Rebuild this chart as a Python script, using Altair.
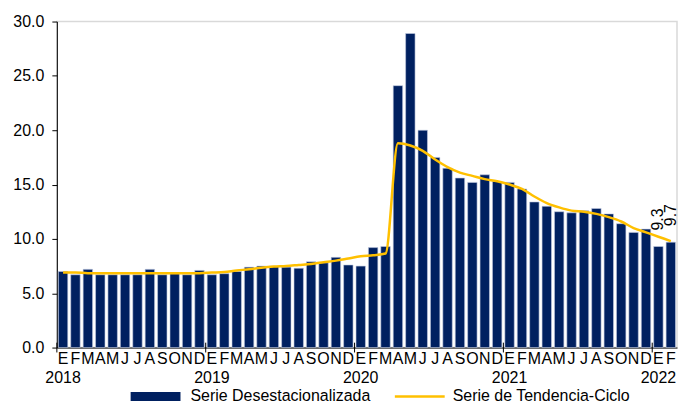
import json
import altair as alt
import pandas as pd

# --- data -------------------------------------------------------------
months = ["E", "F", "M", "A", "M", "J", "J", "A", "S", "O", "N", "D"]
years = ["2018", "2019", "2020", "2021", "2022"]

desestacionalizada = [
    7.0, 6.7, 7.2, 6.7, 6.7, 6.7, 6.7, 7.2, 6.7, 6.8, 6.7, 7.1,      # 2018
    6.7, 6.8, 7.0, 7.4, 7.5, 7.5, 7.4, 7.3, 7.9, 7.8, 8.3, 7.6,      # 2019
    7.5, 9.2, 9.3, 24.1, 28.9, 20.0, 17.5, 16.5, 15.6, 15.2, 15.9, 15.3,  # 2020
    15.2, 14.6, 13.4, 13.0, 12.5, 12.4, 12.6, 12.8, 12.3, 11.4, 10.6, 10.9,  # 2021
    9.3, 9.7,                                                        # 2022
]

tendencia = [
    6.9, 6.9, 6.85, 6.85, 6.85, 6.85, 6.85, 6.85, 6.85, 6.85, 6.85, 6.85,
    6.9, 6.95, 7.1, 7.2, 7.35, 7.45, 7.5, 7.6, 7.7, 7.85, 8.0, 8.2,
    8.4, 8.5, 8.65, 18.8, 18.6, 18.1, 17.3, 16.6, 16.1, 15.8, 15.5, 15.3,
    15.0, 14.6, 13.9, 13.3, 12.9, 12.6, 12.5, 12.3, 12.0, 11.6, 11.0, 10.6,
    10.2, 9.8,
]

serie_barras = "Serie Desestacionalizada"
serie_linea = "Serie de Tendencia-Ciclo"

n = len(desestacionalizada)
df = pd.DataFrame({
    "idx": list(range(n)),
    "desest": desestacionalizada,
    "tend": tendencia,
    "s1": serie_barras,
    "s2": serie_linea,
})

# axis labels: month initial, plus year under each January
labels = []
for i in range(n):
    m = months[i % 12]
    labels.append([m, years[i // 12]] if i % 12 == 0 else m)
label_expr = json.dumps(labels) + "[datum.value]"

year_ticks = pd.DataFrame({"idx": [i for i in range(n) if i % 12 == 0]})

FONT = "Liberation Sans, Arial, sans-serif"
NAVY = "#002060"
GOLD = "#FFC000"

x_enc = alt.X(
    "idx:O",
    scale=alt.Scale(paddingInner=0.24, paddingOuter=0.12),
    axis=alt.Axis(
        title=None, labelExpr=label_expr, labelAngle=0, ticks=False,
        labelPadding=3, labelLineHeight=19, labelOverlap=False,
        domainColor="black", labelAlign="center",
        labelFont=FONT, labelFontSize=16, labelColor="black",
    ),
)

y_scale = alt.Scale(domain=[0, 30], nice=False)

bars = alt.Chart(df).mark_bar(stroke="#c3cbe0", strokeWidth=0.6).encode(
    x=x_enc,
    y=alt.Y(
        "desest:Q", scale=y_scale,
        axis=alt.Axis(
            title=None, values=[0, 5, 10, 15, 20, 25, 30], format=".1f",
            grid=False, tickSize=5, labelPadding=8, domainColor="black",
            tickColor="black", labelFont=FONT, labelFontSize=16,
            labelColor="black",
        ),
    ),
    fill=alt.Fill(
        "s1:N",
        scale=alt.Scale(domain=[serie_barras], range=[NAVY]),
        legend=alt.Legend(
            title=None, orient="none", legendX=91, legendY=368,
            symbolType="M-5,-0.9L5,-0.9L5,0.9L-5,0.9Z", symbolSize=100,
            symbolStrokeWidth=0, labelOffset=27, labelLimit=0,
            labelFont=FONT, labelFontSize=16, labelColor="black",
        ),
    ),
)

line = alt.Chart(df).mark_line(strokeWidth=2.5, interpolate="monotone").encode(
    x=x_enc,
    y=alt.Y("tend:Q", scale=y_scale),
    stroke=alt.Stroke(
        "s2:N",
        scale=alt.Scale(domain=[serie_linea], range=[GOLD]),
        legend=alt.Legend(
            title=None, orient="none", legendX=356, legendY=368,
            symbolType="M-5,0L5,0", symbolSize=100, symbolStrokeWidth=2.5,
            labelOffset=25, labelLimit=0,
            labelFont=FONT, labelFontSize=16, labelColor="black",
        ),
    ),
)

text = alt.Chart(df).transform_filter("datum.idx >= 48").mark_text(
    angle=270, align="left", baseline="middle", dx=16, fontSize=16,
    font=FONT, color="black",
).encode(
    x=x_enc,
    y=alt.Y("desest:Q", scale=y_scale),
    text=alt.Text("desest:Q", format=".1f"),
)

ticks = alt.Chart(year_ticks).mark_rule(color="black", strokeWidth=1, xOffset=-6.2, clip=False).encode(
    x=x_enc,
    y=alt.datum(0.45),
    y2=alt.datum(-0.45),
)

chart = alt.layer(bars, line, ticks, text).properties(
    width=622, height=327,
    padding={"left": 4, "top": 5, "right": 0, "bottom": -3},
    background="white",
).configure_view(
    stroke="#d9d9d9", strokeWidth=1.5,
)

chart.save("out.html", embed_options={"renderer": "svg", "actions": False})
